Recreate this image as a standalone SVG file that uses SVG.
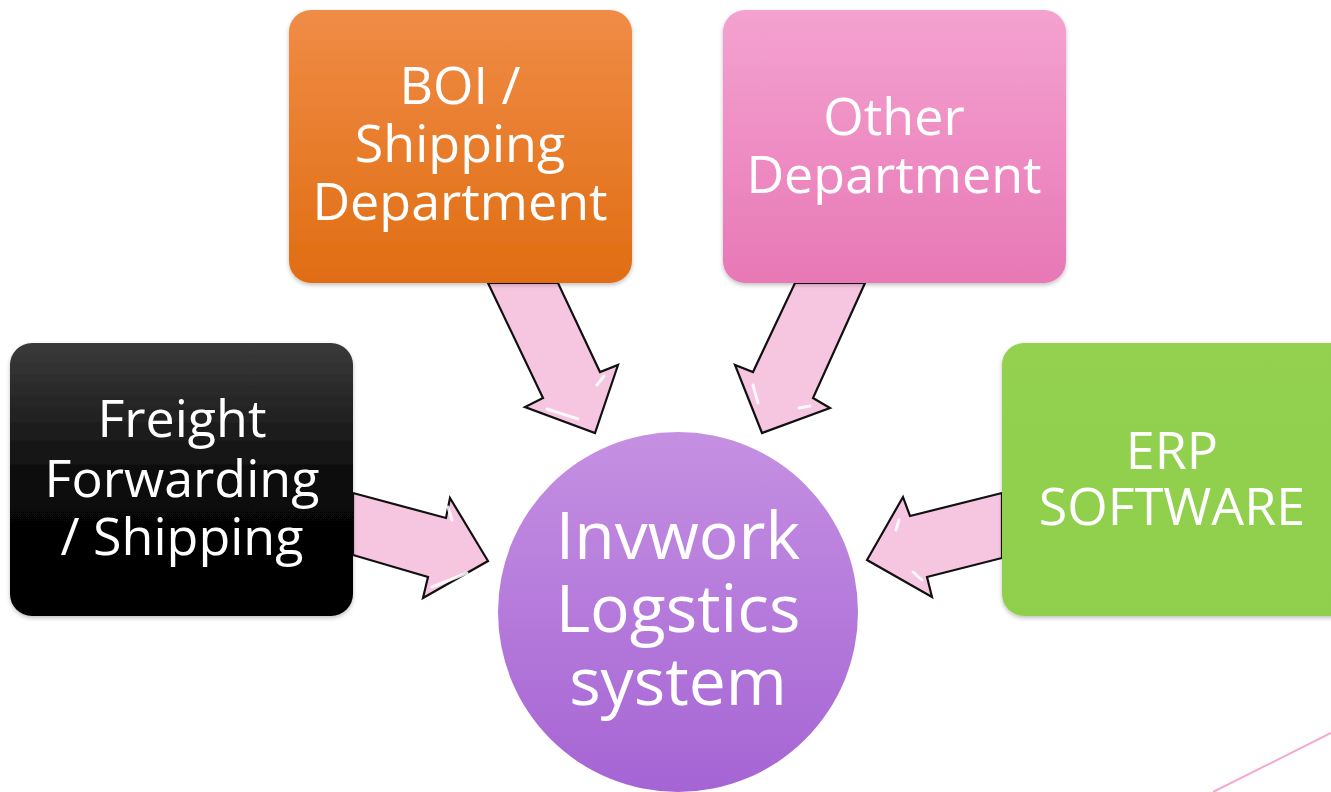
<svg xmlns="http://www.w3.org/2000/svg" width="1331" height="792" viewBox="0 0 1331 792">
<defs>
<linearGradient id="gBlack" x1="0" y1="0" x2="0" y2="1"><stop offset="0" stop-color="#3a3a3a"/><stop offset="0.55" stop-color="#080808"/><stop offset="1" stop-color="#000"/></linearGradient>
<linearGradient id="gOrange" x1="0" y1="0" x2="0" y2="1"><stop offset="0" stop-color="#f08c46"/><stop offset="1" stop-color="#e06d12"/></linearGradient>
<linearGradient id="gPink" x1="0" y1="0" x2="0" y2="1"><stop offset="0" stop-color="#f4a2d0"/><stop offset="1" stop-color="#e878b6"/></linearGradient>
<linearGradient id="gGreen" x1="0" y1="0" x2="0" y2="1"><stop offset="0" stop-color="#93d150"/><stop offset="1" stop-color="#8fcf4c"/></linearGradient>
<linearGradient id="gCircle" x1="0" y1="0" x2="0" y2="1"><stop offset="0" stop-color="#c590e2"/><stop offset="1" stop-color="#a564d4"/></linearGradient>
<filter id="sh" x="-10%" y="-10%" width="120%" height="120%"><feDropShadow dx="0" dy="2" stdDeviation="2" flood-color="#000" flood-opacity="0.25"/></filter>
</defs>
<style>
.t{font-family:"Open Sans","DejaVu Sans",sans-serif;fill:#fff;text-anchor:middle}
.b{font-size:52px}
.c{font-size:66px}
.arr{fill:#f6c6e1;stroke:#111;stroke-width:2.2;stroke-linejoin:miter}
.hl{fill:none;stroke:#fff;stroke-width:3;stroke-linecap:round;opacity:0.85}
</style>
<line x1="1213" y1="792" x2="1331" y2="733" stroke="#f4a8d0" stroke-width="2"/>
<g id="connectors">
<path class="arr" d="M353,493 L446,518 L450,498 L488,561 L423,598 L428,577 L353,555 Z"/>
<path class="hl" d="M448,507 L452,520"/>
<path class="hl" d="M432,587 L467,573"/>
<path class="arr" d="M488,283 L543,398 L525,407 L595,433 L618,365 L600,372 L558,283 Z"/>
<path class="hl" d="M547,409 L578,419"/>
<path class="hl" d="M597,385 L604,376"/>
<path class="arr" d="M865,283 L813,398 L830,408 L762,433 L735,365 L753,372 L795,283 Z"/>
<path class="hl" d="M753,385 L758,403"/>
<path class="hl" d="M799,408 L810,406"/>
<path class="arr" d="M1002,493 L910,516 L903,497 L867,560 L932,597 L927,577 L1002,558 Z"/>
<path class="hl" d="M899,520 L896,530"/>
<path class="hl" d="M913,572 L922,580"/>
</g>
<g id="freight" filter="url(#sh)">
<rect x="10" y="343" width="343" height="273" rx="22" fill="url(#gBlack)"/>
<text class="t b" x="182" y="437">Freight</text>
<text class="t b" x="182" y="497">Forwarding</text>
<text class="t b" x="182" y="555">/ Shipping</text>
</g>
<g id="boi" filter="url(#sh)">
<rect x="289" y="10" width="343" height="273" rx="22" fill="url(#gOrange)"/>
<text class="t b" x="460" y="104">BOI /</text>
<text class="t b" x="460" y="162">Shipping</text>
<text class="t b" x="460" y="220">Department</text>
</g>
<g id="other" filter="url(#sh)">
<rect x="723" y="10" width="343" height="273" rx="22" fill="url(#gPink)"/>
<text class="t b" x="894" y="135">Other</text>
<text class="t b" x="894" y="193">Department</text>
</g>
<g id="erp" filter="url(#sh)">
<rect x="1002" y="343" width="360" height="273" rx="22" fill="url(#gGreen)"/>
<text class="t b" x="1172" y="469">ERP</text>
<text class="t b" x="1172" y="525">SOFTWARE</text>
</g>
<g id="invwork">
<circle cx="678" cy="612" r="180" fill="url(#gCircle)"/>
<text class="t c" x="678" y="559">Invwork</text>
<text class="t c" x="678" y="632">Logstics</text>
<text class="t c" x="678" y="705">system</text>
</g>
</svg>
